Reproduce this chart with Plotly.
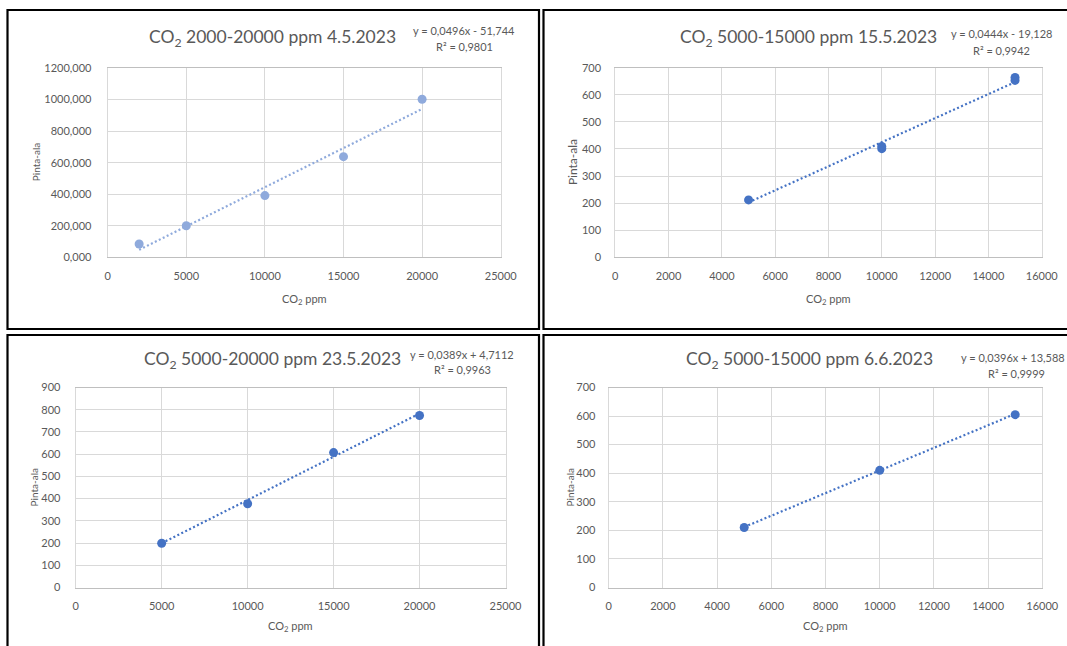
import plotly.graph_objects as go

W, H = 1067, 646

# ---------------- data ----------------
titles = [
    "CO<sub>2</sub> 2000-20000 ppm 4.5.2023",
    "CO<sub>2</sub> 5000-15000 ppm 15.5.2023",
    "CO<sub>2</sub> 5000-20000 ppm 23.5.2023",
    "CO<sub>2</sub> 5000-15000 ppm 6.6.2023",
]
equations = ["y = 0,0496x - 51,744", "y = 0,0444x - 19,128",
             "y = 0,0389x + 4,7112", "y = 0,0396x + 13,588"]
r2_labels = ["R² = 0,9801", "R² = 0,9942", "R² = 0,9963", "R² = 0,9999"]
slopes = [0.0496, 0.0444, 0.0389, 0.0396]
intercepts = [-51.744, -19.128, 4.7112, 13.588]

co2_a = [2000, 5000, 10000, 15000, 20000]
area_a = [84, 200, 391, 638, 1002]
co2_b = [5000, 10000, 10000, 15000, 15000]
area_b = [212, 401, 409, 653, 664]
co2_c = [5000, 10000, 15000, 20000]
area_c = [199, 377, 607, 774]
co2_d = [5000, 10000, 15000]
area_d = [210, 410, 605]

x_ranges = [[0, 25000], [0, 16000], [0, 25000], [0, 16000]]
x_dticks = [5000, 2000, 5000, 2000]
y_ranges = [[0, 1200], [0, 700], [0, 900], [0, 700]]
y_dticks = [200, 100, 100, 100]
y_formats = [".3f", "d", "d", "d"]
x_title = "CO<sub>2</sub> ppm"
y_title = "Pinta-ala"

series = [(co2_a, area_a), (co2_b, area_b), (co2_c, area_c), (co2_d, area_d)]

# ---------------- layout (pixels) ----------------
plot_boxes = [  # left, top, right, bottom
    (107.7, 68.0, 500.7, 257.3),
    (615.3, 67.7, 1041.7, 257.3),
    (75.7, 387.5, 505.5, 587.5),
    (608.7, 387.5, 1042.3, 587.5),
]
y_standoff = [13, 11, 12, 10]
title_pos = [(272.4, 38), (808.6, 38), (272.6, 359.5), (809, 359.5)]
eq_pos = [(464.4, 30.5), (1001.3, 33.5), (462.4, 354), (1012.5, 357)]
r2_pos = [(464.0, 47), (1001.3, 50), (462.5, 370), (1016.6, 373)]
xt_pos = [(304.5, 299), (828.5, 299), (290.6, 626.5), (825.5, 626.5)]
yt_pos = [(35.5, 162.7), (572.6, 162.5), (33, 487.5), (569, 487.5)]
yt_size = [10, 12, 10, 10]
frames = [(7.5, 10, 539, 329), (543.5, 10, 1075, 329),
          (7.5, 335, 539, 660), (543.5, 335, 1075, 660)]
colors = ["#8FAADC", "#4472C4", "#4472C4", "#4472C4"]

TXT = "#595959"
FONT = "Lato"


def px(x):
    return x / W


def py(y):
    return 1 - y / H


fig = go.Figure()
annotations = []
shapes = []

for i in range(4):
    n = i + 1
    xa = "x" if n == 1 else f"x{n}"
    ya = "y" if n == 1 else f"y{n}"
    xs, ys = series[i]
    # trendline drawn from the displayed regression equation
    x_lo, x_hi = min(xs), max(xs)
    fig.add_trace(go.Scatter(
        x=[x_lo, x_hi],
        y=[slopes[i] * x_lo + intercepts[i], slopes[i] * x_hi + intercepts[i]],
        mode="lines", line=dict(color=colors[i], width=2.2, dash="2px,2.4px"),
        xaxis=xa, yaxis=ya, showlegend=False, hoverinfo="skip"))
    fig.add_trace(go.Scatter(
        x=xs, y=ys, mode="markers",
        marker=dict(color=colors[i], size=9),
        xaxis=xa, yaxis=ya, showlegend=False))

    l, t, r, b = plot_boxes[i]
    axis_common = dict(
        showgrid=True, gridcolor="#D9D9D9", gridwidth=1,
        showline=True, linecolor="#D9D9D9", linewidth=1, mirror=True,
        zeroline=False, ticks="", automargin=False,
        tickfont=dict(family=FONT, size=11, color=TXT),
        fixedrange=True,
    )
    fig.layout[f"xaxis{'' if n == 1 else n}"] = dict(
        axis_common, domain=[px(l), px(r)], range=x_ranges[i],
        dtick=x_dticks[i], tick0=0, anchor=ya, ticklabelstandoff=8,
        tickformat="d", linecolor="#BFBFBF")
    fig.layout[f"yaxis{'' if n == 1 else n}"] = dict(
        axis_common, domain=[py(b), py(t)], range=y_ranges[i],
        dtick=y_dticks[i], tick0=0, anchor=xa, ticklabelstandoff=y_standoff[i],
        tickformat=y_formats[i])

    annotations.append(dict(text=titles[i], x=px(title_pos[i][0]), y=py(title_pos[i][1]),
                            xref="paper", yref="paper", showarrow=False,
                            xanchor="center", yanchor="middle",
                            font=dict(family=FONT, size=17.5, color=TXT)))
    annotations.append(dict(text=equations[i], x=px(eq_pos[i][0]), y=py(eq_pos[i][1]),
                            xref="paper", yref="paper", showarrow=False,
                            xanchor="center", yanchor="middle",
                            font=dict(family=FONT, size=11, color=TXT)))
    annotations.append(dict(text=r2_labels[i], x=px(r2_pos[i][0]), y=py(r2_pos[i][1]),
                            xref="paper", yref="paper", showarrow=False,
                            xanchor="center", yanchor="middle",
                            font=dict(family=FONT, size=11, color=TXT)))
    annotations.append(dict(text=x_title, x=px(xt_pos[i][0]), y=py(xt_pos[i][1]),
                            xref="paper", yref="paper", showarrow=False,
                            xanchor="center", yanchor="middle",
                            font=dict(family=FONT, size=11, color=TXT)))
    annotations.append(dict(text=y_title, x=px(yt_pos[i][0]), y=py(yt_pos[i][1]),
                            xref="paper", yref="paper", showarrow=False,
                            xanchor="center", yanchor="middle", textangle=-90,
                            font=dict(family=FONT, size=yt_size[i], color=TXT)))
    fl, ft, fr, fb = frames[i]
    shapes.append(dict(type="rect", xref="paper", yref="paper",
                       x0=px(fl), x1=px(fr), y0=py(fb), y1=py(ft),
                       line=dict(color="black", width=2.2)))

fig.update_layout(
    width=W, height=H, autosize=False,
    margin=dict(l=0, r=0, t=0, b=0, pad=0, autoexpand=False),
    paper_bgcolor="white", plot_bgcolor="white",
    separators=", ",
    annotations=annotations, shapes=shapes,
    showlegend=False,
)

fig.write_html(
    "out.html",
    config={"displayModeBar": False},
    post_script=(
        "document.documentElement.style.margin='0';"
        "document.documentElement.style.overflow='hidden';"
        "document.body.style.margin='0';"
        "document.body.style.overflow='hidden';"
    ),
)
